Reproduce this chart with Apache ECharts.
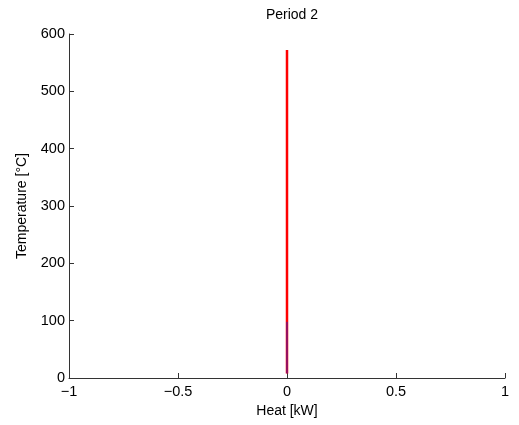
<!DOCTYPE html>
<html><head><meta charset="utf-8">
<script src="https://cdn.jsdelivr.net/npm/echarts@6/dist/echarts.min.js"></script>
<style>html,body{margin:0;padding:0;background:#fff}#c{width:519px;height:425px}</style>
</head><body><div id="c"></div>
<script>
const title = "Period 2";
const xLabel = "Heat [kW]";
const yLabel = "Temperature [°C]";
const xTicks = [-1, -0.5, 0, 0.5, 1];
const yTicks = [0, 100, 200, 300, 400, 500, 600];
const redHeat = [0, 0];
const redTemp = [8, 572];
const blueHeat = [0, 0];
const blueTemp = [8, 98];

const chart = echarts.init(document.getElementById('c'));
const fmtX = v => String(v).replace('-', '\u2212');
const font = 'Liberation Sans, Arial';
const axisCommon = {
  axisLine: {show: true, onZero: false, lineStyle: {color: '#333', width: 1}},
  axisTick: {show: true, inside: true, length: 5, lineStyle: {color: '#333'}},
  splitLine: {show: false},
  axisLabel: {color: '#000', fontSize: 14.5, fontFamily: font}
};
chart.setOption({
  animation: false,
  title: {text: title, left: 287, top: 3, textAlign: 'center',
    textStyle: {fontSize: 14, fontWeight: 'normal', color: '#000', fontFamily: font}},
  grid: {left: 69, right: 14, top: 34, bottom: 47},
  xAxis: Object.assign({}, axisCommon, {
    type: 'value', min: -1, max: 1, interval: 0.5,
    name: xLabel, nameLocation: 'middle', nameGap: 24,
    nameTextStyle: {fontSize: 14, color: '#000', fontFamily: font},
    axisLabel: Object.assign({}, axisCommon.axisLabel, {margin: 6, formatter: fmtX})
  }),
  yAxis: Object.assign({}, axisCommon, {
    type: 'value', min: 0, max: 600, interval: 100,
    name: yLabel, nameLocation: 'middle', nameGap: 40,
    nameTextStyle: {fontSize: 14, color: '#000', fontFamily: font},
    axisLabel: Object.assign({}, axisCommon.axisLabel, {margin: 4})
  }),
  series: [
    {type: 'line', data: redHeat.map((x, i) => [x, redTemp[i]]), symbol: 'none',
      lineStyle: {color: '#ff0000', width: 2.5}},
    {type: 'line', data: blueHeat.map((x, i) => [x, blueTemp[i]]), symbol: 'none',
      lineStyle: {color: '#3020c0', width: 1}}
  ]
});
</script></body></html>
